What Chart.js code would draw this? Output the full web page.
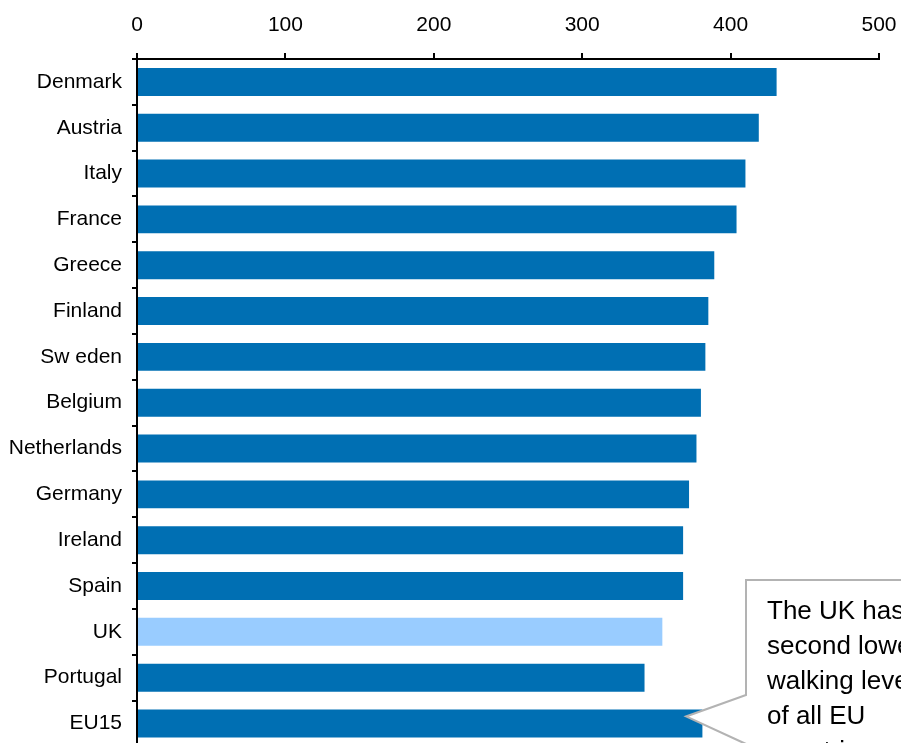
<!DOCTYPE html>
<html>
<head>
<meta charset="utf-8">
<script src="https://cdn.jsdelivr.net/npm/chart.js@4/dist/chart.umd.min.js"></script>
<style>
html,body{margin:0;padding:0;background:#fff;overflow:hidden}
canvas{display:block}
</style>
</head>
<body>
<canvas id="walkChart" width="901" height="769"></canvas>
<script>
const countries=["Denmark","Austria","Italy","France","Greece","Finland","Sw eden","Belgium","Netherlands","Germany","Ireland","Spain","UK","Portugal","EU15"]
const walking=[431,419,410,404,389,385,383,380,377,372,368,368,354,342,381]
const xTicks=[0,100,200,300,400,500]
const calloutLines=["The UK has the","second lowest","walking levels","of all EU","countries"]

const blue="#006fb3",light="#99ccff"
const font={family:"'Liberation Sans', Arial, sans-serif",size:21}

// speech-bubble note pointing at the EU15 bar
const callout={
  id:"callout",
  afterDatasetsDraw(chart){
    const c=chart.ctx,x=chart.scales.x,y=chart.scales.y
    const tipX=x.getPixelForValue(370),tipY=y.getPixelForValue(countries.length-1)-7
    const left=746,top=580
    c.save()
    c.beginPath()
    c.moveTo(1000,top)
    c.lineTo(left,top)
    c.lineTo(left,695)
    c.lineTo(tipX,tipY)
    c.lineTo(left,744)
    c.lineTo(left,900)
    c.lineTo(1000,900)
    c.closePath()
    c.fillStyle="#fff"
    c.fill()
    c.strokeStyle="#b3b3b3"
    c.lineWidth=2
    c.stroke()
    c.fillStyle="#000"
    c.font="26px 'Liberation Sans', Arial, sans-serif"
    c.textBaseline="alphabetic"
    calloutLines.forEach((t,i)=>c.fillText(t,767,619+i*35))
    c.restore()
  }
}

new Chart(document.getElementById("walkChart"),{
  type:"bar",
  data:{
    labels:countries,
    datasets:[{
      data:walking,
      backgroundColor:countries.map(n=>n=="UK"?light:blue),
      barPercentage:0.61,
      categoryPercentage:1
    }]
  },
  options:{
    indexAxis:"y",
    responsive:false,
    animation:false,
    layout:{padding:{top:0,right:22,bottom:13,left:0}},
    plugins:{legend:{display:false},tooltip:{enabled:false}},
    scales:{
      x:{
        position:"top",min:0,max:500,
        afterBuildTicks:s=>{s.ticks=xTicks.map(v=>({value:v}))},
        afterFit:s=>{s.height=59;s.paddingRight=0;s.paddingLeft=0},
        ticks:{color:"#000",font:font,padding:15,maxRotation:0},
        grid:{drawOnChartArea:false,tickLength:6,color:"#000",lineWidth:2},
        border:{color:"#000",width:2}
      },
      y:{
        afterFit:s=>{s.width=137},
        ticks:{color:"#000",font:font,padding:10,autoSkip:false},
        grid:{drawOnChartArea:false,tickLength:5,color:"#000",lineWidth:2,offset:true},
        border:{color:"#000",width:2}
      }
    }
  },
  plugins:[callout]
})
</script>
</body>
</html>
